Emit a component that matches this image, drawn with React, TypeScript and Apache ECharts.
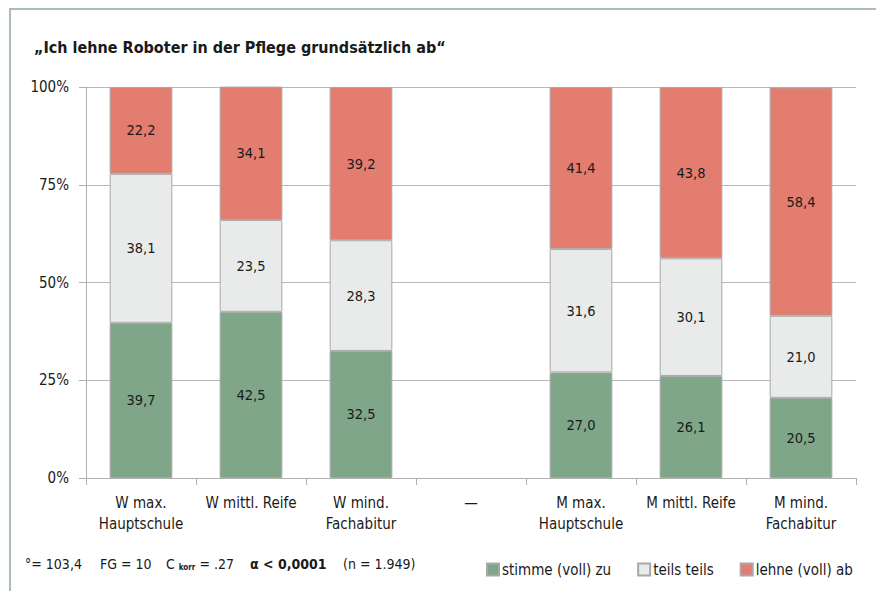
import React, { useEffect, useRef } from "react";
import * as echarts from "echarts";

const categories = [
  "W max.\nHauptschule",
  "W mittl. Reife",
  "W mind.\nFachabitur",
  "—",
  "M max.\nHauptschule",
  "M mittl. Reife",
  "M mind.\nFachabitur",
];
const stimmeZu = [39.7, 42.5, 32.5, null, 27.0, 26.1, 20.5];
const teilsTeils = [38.1, 23.5, 28.3, null, 31.6, 30.1, 21.0];
const lehneAb = [22.2, 34.1, 39.2, null, 41.4, 43.8, 58.4];
const yTicks = [0, 25, 50, 75, 100];

const FONT = "'DejaVu Sans Condensed', 'Liberation Sans Narrow', Roboto, sans-serif";
const TEXT = "#1a1a1a";
const FRAME = "#a9bdb0";

const fmt = (p: any) =>
  p.value == null ? "" : Number(p.value).toFixed(1).replace(".", ",");

export default function App() {
  const ref = useRef<HTMLDivElement>(null);
  useEffect(() => {
    if (!ref.current) return;
    const chart = echarts.init(ref.current, null, { renderer: "svg" });
    const mk = (name: string, data: (number | null)[], color: string) => ({
      name,
      type: "bar",
      stack: "total",
      data,
      barWidth: "57%",
      itemStyle: { color, borderColor: "#a8a8a8", borderWidth: 1 },
      label: {
        show: true,
        position: "inside",
        formatter: fmt,
        color: TEXT,
        fontSize: 14.5,
        fontFamily: FONT,
      },
    });
    chart.setOption({
      animation: false,
      textStyle: { fontFamily: FONT },
      title: {
        text: "„Ich lehne Roboter in der Pflege grundsätzlich ab“",
        left: 29,
        top: 34,
        textStyle: { fontSize: 16, fontWeight: "bold", color: TEXT, fontFamily: FONT },
      },
      legend: {
        left: 481,
        top: 557,
        itemWidth: 12,
        itemHeight: 12,
        itemGap: 26,
        icon: "rect",
        textStyle: { fontSize: 15, color: TEXT, fontFamily: FONT, padding: [0, 0, 0, -2] },
        data: ["stimme (voll) zu", "teils teils", "lehne (voll) ab"],
      },
      grid: { left: 86, right: 20, top: 87, bottom: 113 },
      xAxis: {
        type: "category",
        data: categories,
        axisLine: { lineStyle: { color: "#b0b0b0" } },
        axisTick: { show: true, length: 7, lineStyle: { color: "#b0b0b0" } },
        axisLabel: {
          color: TEXT,
          fontSize: 15,
          lineHeight: 21,
          margin: 14,
          fontFamily: FONT,
          interval: 0,
        },
      },
      yAxis: {
        type: "value",
        min: 0,
        max: 100,
        interval: 25,
        axisLine: { show: true, lineStyle: { color: "#b0b0b0" } },
        axisTick: { show: true, length: 7, lineStyle: { color: "#b0b0b0" } },
        splitLine: { lineStyle: { color: "#b8b8b8" } },
        axisLabel: {
          color: TEXT,
          fontSize: 15,
          margin: 17,
          fontFamily: FONT,
          formatter: (v: number) => (yTicks.includes(v) ? v + "%" : ""),
        },
      },
      series: [
        mk("stimme (voll) zu", stimmeZu, "#80a68a"),
        mk("teils teils", teilsTeils, "#e9ebea"),
        mk("lehne (voll) ab", lehneAb, "#e27d6f"),
      ],
      graphic: [
        { type: "line", shape: { x1: 10, y1: 8, x2: 10, y2: 591 }, style: { stroke: FRAME, lineWidth: 2 } },
        { type: "line", shape: { x1: 9, y1: 9, x2: 876, y2: 9 }, style: { stroke: FRAME, lineWidth: 2 } },
        {
          type: "text",
          left: 25,
          top: 557,
          style: { text: "°= 103,4", fontSize: 14, fill: TEXT, fontFamily: FONT },
        },
        {
          type: "text",
          left: 100,
          top: 557,
          style: { text: "FG = 10", fontSize: 14, fill: TEXT, fontFamily: FONT },
        },
        {
          type: "text",
          left: 166,
          top: 557,
          style: {
            text: "{a|C }{s|korr}{a| = .27}",
            fontFamily: FONT,
            rich: {
              a: { fontSize: 14, fill: TEXT, fontFamily: FONT, verticalAlign: "bottom" },
              s: { fontSize: 8, fill: TEXT, fontFamily: FONT, fontWeight: "bold", padding: [8, 0, 0, 0] },
            },
          },
        },
        {
          type: "text",
          left: 250,
          top: 557,
          style: { text: "α < 0,0001", fontSize: 14, fontWeight: "bold", fill: TEXT, fontFamily: FONT },
        },
        {
          type: "text",
          left: 343,
          top: 557,
          style: { text: "(n = 1.949)", fontSize: 14, fill: TEXT, fontFamily: FONT },
        },
      ],
    });
    return () => chart.dispose();
  }, []);
  return (
    <div
      ref={ref}
      style={{ position: "fixed", left: 0, top: 0, width: 876, height: 591, background: "#fff" }}
    />
  );
}
